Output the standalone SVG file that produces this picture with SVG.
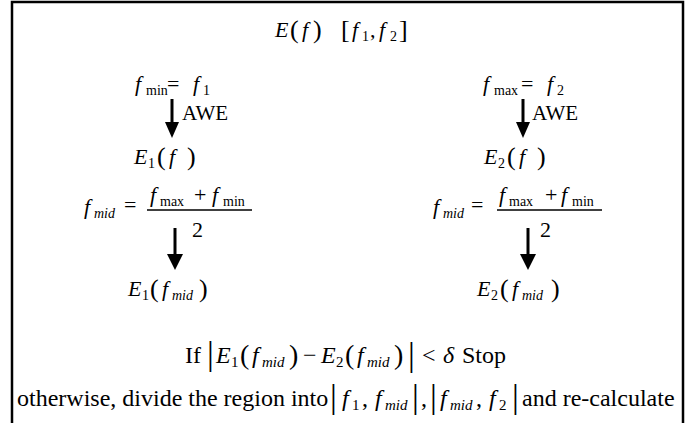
<svg xmlns="http://www.w3.org/2000/svg" width="697" height="423" viewBox="0 0 697 423">
<style>
text{font-family:"Liberation Serif","Times New Roman",serif;font-size:22px;fill:#000}
.i{font-style:italic}
.s{font-size:14px}
.si{font-size:14px;font-style:italic}
.p{font-size:26px}
.t{font-size:21px}
.L{font-size:24px}
.L .s{font-size:15px}
.L .si{font-size:15px;font-style:italic}
.L .p{font-size:28px}
.L .b{font-size:34px}
.ar{stroke:#000;stroke-width:3}
.hd{fill:#000}
.fr{stroke:#000;stroke-width:1.5}
</style>
<rect x="12" y="2" width="671" height="440" fill="#fff" stroke="#000" stroke-width="2.5"/>
<g id="title">
<text y="37"><tspan x="275" class="i">E</tspan><tspan x="290" class="p" dy="1">(</tspan><tspan x="302" class="i" dy="-1">f</tspan><tspan x="313" class="p" dy="1">)</tspan><tspan x="341" class="p">[</tspan><tspan x="352" class="i" dy="-1">f</tspan><tspan x="362" class="s" dy="4">1</tspan><tspan x="370" dy="-4">,</tspan><tspan x="379" class="i">f</tspan><tspan x="390" class="s" dy="4">2</tspan><tspan x="399" class="p" dy="-3">]</tspan></text>
</g>
<g id="left-start">
<text y="91"><tspan x="135" class="i">f</tspan><tspan x="146" class="s" dy="4">min</tspan><tspan x="167" dy="-4">=</tspan><tspan x="193" class="i">f</tspan><tspan x="203" class="s" dy="4">1</tspan></text>
</g>
<g id="right-start">
<text y="91"><tspan x="483" class="i">f</tspan><tspan x="494" class="s" dy="4">max</tspan><tspan x="521" dy="-4">=</tspan><tspan x="547" class="i">f</tspan><tspan x="557" class="s" dy="4">2</tspan></text>
</g>
<g id="left-e1f">
<text y="164"><tspan x="134" class="i">E</tspan><tspan x="148" class="s" dy="4">1</tspan><tspan x="157" class="p" dy="-3">(</tspan><tspan x="169" class="i" dy="-1">f</tspan><tspan x="187" class="p" dy="1">)</tspan></text>
</g>
<g id="right-e2f">
<text y="164"><tspan x="484" class="i">E</tspan><tspan x="498" class="s" dy="4">2</tspan><tspan x="507" class="p" dy="-3">(</tspan><tspan x="519" class="i" dy="-1">f</tspan><tspan x="537" class="p" dy="1">)</tspan></text>
</g>
<g id="left-mid">
<text y="214"><tspan x="84" class="i">f</tspan><tspan x="94" class="si" dy="4">mid</tspan><tspan x="124" dy="-6">=</tspan></text>
<text y="202"><tspan x="150" class="i">f</tspan><tspan x="160" class="s" dy="4">max</tspan><tspan x="194" dy="-4">+</tspan><tspan x="212" class="i">f</tspan><tspan x="223" class="s" dy="4">min</tspan></text>
<line class="fr" x1="147" y1="210" x2="252" y2="210"/>
<text x="192" y="237">2</text>
</g>
<g id="right-mid">
<text y="214"><tspan x="433" class="i">f</tspan><tspan x="443" class="si" dy="4">mid</tspan><tspan x="471" dy="-6">=</tspan></text>
<text y="202"><tspan x="499" class="i">f</tspan><tspan x="509" class="s" dy="4">max</tspan><tspan x="545" dy="-4">+</tspan><tspan x="561" class="i">f</tspan><tspan x="572" class="s" dy="4">min</tspan></text>
<line class="fr" x1="497" y1="210" x2="602" y2="210"/>
<text x="540" y="237">2</text>
</g>
<g id="left-e1fmid">
<text y="296"><tspan x="128" class="i">E</tspan><tspan x="142" class="s" dy="4">1</tspan><tspan x="150" class="p" dy="-3">(</tspan><tspan x="162" class="i" dy="-1">f</tspan><tspan x="172" class="si" dy="4">mid</tspan><tspan x="199" class="p" dy="-3">)</tspan></text>
</g>
<g id="right-e2fmid">
<text y="296"><tspan x="477" class="i">E</tspan><tspan x="491" class="s" dy="4">2</tspan><tspan x="500" class="p" dy="-3">(</tspan><tspan x="512" class="i" dy="-1">f</tspan><tspan x="522" class="si" dy="4">mid</tspan><tspan x="551" class="p" dy="-3">)</tspan></text>
</g>
<g id="connectors">
<line class="ar" x1="172" y1="99" x2="172" y2="125"/>
<polygon class="hd" points="165,122 179,122 172,138"/>
<text x="182" y="120" class="t">AWE</text>
<line class="ar" x1="523" y1="99" x2="523" y2="125"/>
<polygon class="hd" points="516,122 530,122 523,138"/>
<text x="532" y="120" class="t">AWE</text>
<line class="ar" x1="175" y1="228" x2="175" y2="256"/>
<polygon class="hd" points="167,254 183,254 175,270"/>
<line class="ar" x1="528" y1="228" x2="528" y2="256"/>
<polygon class="hd" points="520,254 536,254 528,270"/>
</g>
<g id="condition">
<text class="L" y="363"><tspan x="185">If</tspan><tspan x="207" class="b" dy="2">|</tspan><tspan x="216" class="i" dy="-2">E</tspan><tspan x="231" class="s" dy="4">1</tspan><tspan x="240" class="p" dy="-3">(</tspan><tspan x="252" class="i" dy="-1">f</tspan><tspan x="262" class="si" dy="4">mid</tspan><tspan x="289" class="p" dy="-3">)</tspan><tspan x="303" dy="-1">−</tspan><tspan x="321" class="i">E</tspan><tspan x="336" class="s" dy="4">2</tspan><tspan x="345" class="p" dy="-3">(</tspan><tspan x="357" class="i" dy="-1">f</tspan><tspan x="367" class="si" dy="4">mid</tspan><tspan x="394" class="p" dy="-3">)</tspan><tspan x="408" class="b" dy="2">|</tspan><tspan x="422" dy="-3">&lt;</tspan><tspan x="443" class="i">δ</tspan><tspan x="462">Stop</tspan></text>
</g>
<g id="otherwise">
<text class="L" y="406"><tspan x="17">otherwise, divide the region into</tspan><tspan x="330" class="b" dy="2">|</tspan><tspan x="342" class="i" dy="-2">f</tspan><tspan x="352" class="s" dy="4">1</tspan><tspan x="362" dy="-4">,</tspan><tspan x="375" class="i">f</tspan><tspan x="385" class="si" dy="4">mid</tspan><tspan x="412" class="b" dy="-2">|</tspan><tspan x="421" dy="-2">,</tspan><tspan x="430" class="b" dy="2">|</tspan><tspan x="440" class="i" dy="-2">f</tspan><tspan x="450" class="si" dy="4">mid</tspan><tspan x="476" dy="-4">,</tspan><tspan x="489" class="i">f</tspan><tspan x="499" class="s" dy="4">2</tspan><tspan x="512" class="b" dy="-2">|</tspan><tspan x="522" dy="-2">and re-calculate</tspan></text>
</g>
</svg>
